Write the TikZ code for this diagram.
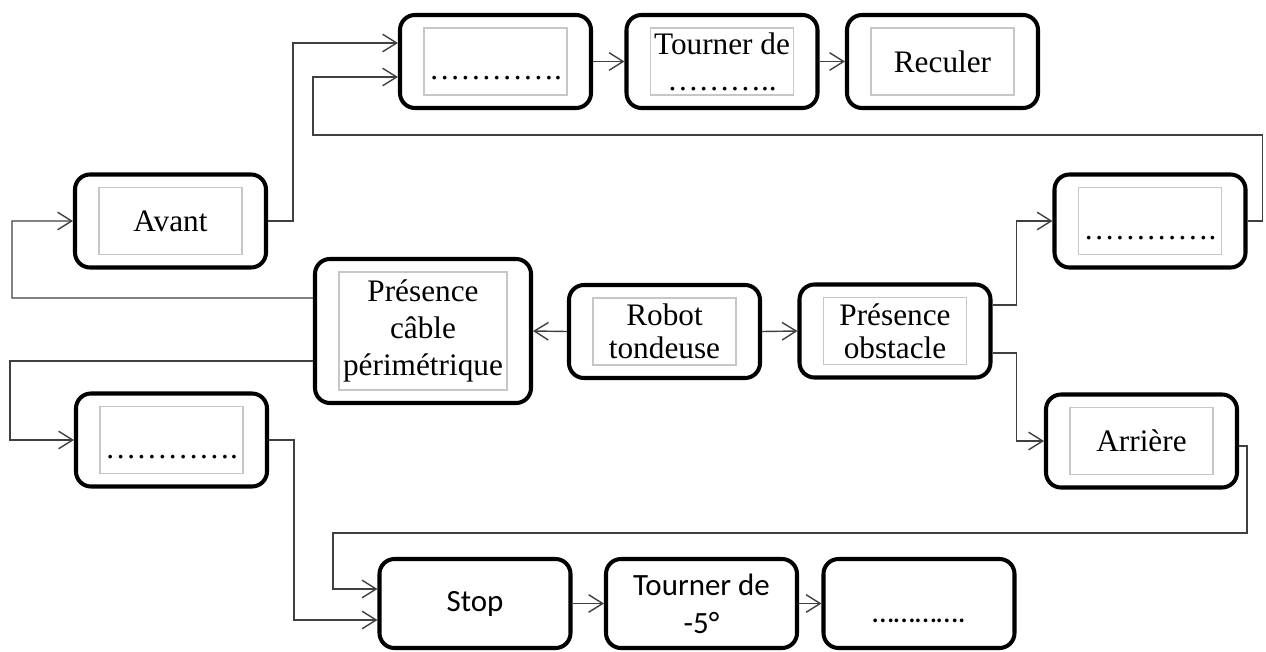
\documentclass[tikz,border=0pt]{standalone}
\usepackage{fontspec}
\setmainfont{Liberation Serif}
\newfontfamily\calibri{Carlito}
\usetikzlibrary{arrows.meta}

\begin{document}
\begin{tikzpicture}

\tikzset{bloc/.style = {shape=rectangle,draw,line width=2.3pt,rounded corners=0.3cm,minimum width=3.82cm,minimum height=1.86cm,align=center,font=\fontsize{17.8}{20.5}\selectfont,
  path picture={\draw[black!22,line width=0.6pt,sharp corners] ([shift={(0.48,0.26)}]path picture bounding box.south west) rectangle ([shift={(-0.48,-0.26)}]path picture bounding box.north east);}}}
\tikzset{blocs/.style = {shape=rectangle,draw,line width=2.3pt,rounded corners=0.3cm,minimum width=3.82cm,minimum height=1.78cm,align=center,font=\calibri\fontsize{17.6}{21.6}\selectfont}}
\tikzset{edge/.style = {-{Straight Barb[length=8pt,width=10pt]},line width=0.8pt,black!75}}
\useasboundingbox (0,0) rectangle (25.32,-13.02);

\node[bloc] (choixA) at (9.91,-1.23) {\rule{0pt}{21pt}………….};
\node[bloc] (tourner) at (14.44,-1.23) {Tourner de\\………..};
\node[bloc] (reculer) at (18.85,-1.23) {Reculer};
\node[bloc] (avant) at (3.41,-4.42) {Avant};
\node[bloc] (choixB) at (23.0,-4.42) {\rule{0pt}{21pt}………….};
\node[bloc,minimum width=4.32cm,minimum height=2.88cm,font=\fontsize{17.8}{20.8}\selectfont] (cable) at (8.46,-6.62) {Présence\\câble\\périmétrique};
\node[bloc,font=\fontsize{17.8}{18.8}\selectfont] (robot) at (13.29,-6.63) {Robot\\tondeuse};
\node[bloc,font=\fontsize{17.8}{18.8}\selectfont] (obstacle) at (17.9,-6.62) {Présence\\obstacle};
\node[bloc] (choixC) at (3.43,-8.8) {\rule{0pt}{21pt}………….};
\node[bloc] (arriere) at (22.83,-8.82) {Arrière};
\node[blocs] (stop) at (9.5,-12.07) {Stop};
\node[blocs] (tourner2) at (14.03,-12.07) {Tourner de\\-5°};
\node[blocs] (choixD) at (18.38,-12.07) {\rule{0pt}{22pt}………….};

%edges
\draw[edge] (avant.east) -- ++(0.5,0) |- ([yshift=0.37cm]choixA.west);
\draw[edge] (choixB.east) -- ++(0.3,0) |- (6.26,-2.7) |- ([yshift=-0.31cm]choixA.west);
\draw[edge] ([yshift=0.66cm]cable.west) -- (0.24,-5.96) |- (avant.west);
\draw[edge] ([yshift=-0.6cm]cable.west) -- (0.2,-7.22) |- (choixC.west);
\draw[edge] (robot.west) -- (cable.east);
\draw[edge] (robot.east) -- (obstacle.west);
\draw[edge] ([yshift=0.52cm]obstacle.east) -- ++(0.48,0) |- (choixB.west);
\draw[edge] ([yshift=-0.44cm]obstacle.east) -- ++(0.48,0) |- (arriere.west);
\draw[edge] (choixC.east) -- ++(0.5,0) |- ([yshift=-0.33cm]stop.west);
\draw[edge] ([yshift=-0.1cm]arriere.east) -- ++(0.16,0) |- (6.66,-10.66) |- ([yshift=0.29cm]stop.west);
\draw[edge] (choixA.east) -- (tourner.west);
\draw[edge] (tourner.east) -- (reculer.west);
\draw[edge] (stop.east) -- (tourner2.west);
\draw[edge] (tourner2.east) -- (choixD.west);
\end{tikzpicture}
\end{document}
